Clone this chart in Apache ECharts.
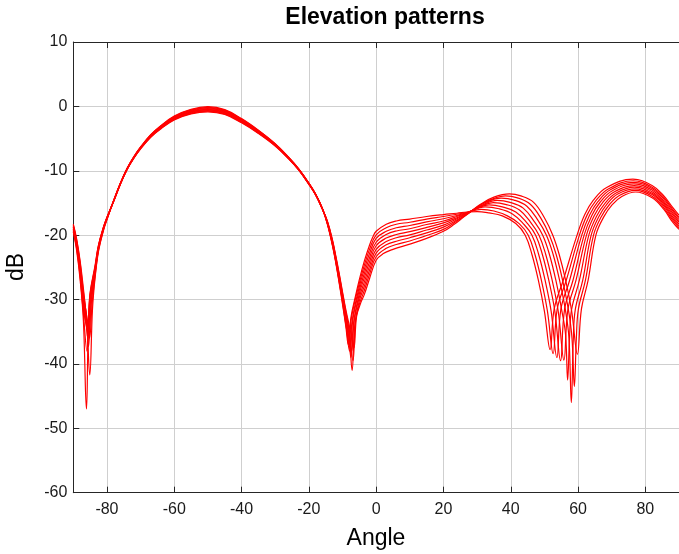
<!DOCTYPE html>
<html>
<head>
<meta charset="utf-8">
<script src="https://cdn.jsdelivr.net/npm/echarts@6/dist/echarts.min.js"></script>
<style>
  html, body { margin: 0; padding: 0; background: #fff; }
  #chart { width: 679px; height: 554px; }
</style>
</head>
<body>
<div id="chart"></div>
<script>
// tick labels
var xTicks = [-80, -60, -40, -20, 0, 20, 40, 60, 80];

// elevation pattern curves, [angle, dB]
var pattern1 = [[-90,-18.3],[-89,-20.6],[-88,-23.9],[-87,-28.3],[-86,-33.6],[-85.1,-41.7],[-84.3,-31.5],[-83.5,-26.5],[-82.5,-22.5],[-81,-19.2],[-80,-17.6],
  [-78,-14.6],[-76,-11.9],[-74,-9.6],[-72,-7.8],[-70,-6.3],[-67,-4.4],[-64,-3.0],[-60,-1.5],[-55,-0.45],[-50,-0.05],[-45,-0.5],[-40,-1.9],[-35,-3.7],[-30,-5.8],[-26,-7.9],[-23,-9.7],[-20,-11.9],[-18,-13.6],[-16,-15.8],[-14.5,-18.3],[-13,-21.6],[-12,-24.3],[-11,-27.4],[-10,-30.7],[-9,-34.2],[-8.3,-37],
  [-7.5,-32.8],[-6.2,-29.6],[-5,-26.9],[-3.5,-24.0],[-2,-21.6],[-1,-20.3],[0,-19.4],[3,-18.3],[6,-17.8],[10,-17.5],[15,-17.1],[20,-16.8],[24,-16.6],[27,-16.4],[30,-16.35],[33.5,-16.55],[37.5,-17.0],[41.5,-18.2],[44.3,-20],[46.3,-23.0],[48.2,-27],[50,-31.8],[51.7,-37.8],[52.9,-31.5],
  [55.6,-27],[59.7,-20],[62,-16.8],[64.5,-14.6],[68.5,-12.6],[76.3,-11.3],[82,-12.3],[85.5,-13.9],[88,-15.6],[90,-16.9]];
var pattern2 = [[-90,-18.4],[-89,-20.8],[-88,-24.2],[-87,-28.8],[-86,-32.8],[-85.2,-36],[-84.4,-30.6],[-83.5,-26.2],[-82.5,-22.3],[-81,-19.1],[-80,-17.5],
  [-78,-14.62],[-76,-11.92],[-74,-9.63],[-72,-7.83],[-70,-6.34],[-67,-4.45],[-64,-3.06],[-60,-1.58],[-55,-0.54],[-50,-0.15],[-45,-0.59],[-40,-1.98],[-35,-3.76],[-30,-5.84],[-26,-7.93],[-23,-9.73],[-20,-11.93],[-18,-13.62],[-16,-15.82],[-14.5,-18.24],[-13,-21.49],[-12,-24.16],[-11,-27.21],[-10,-30.46],[-9,-33.9],[-8.1,-36.5],
  [-7.3,-32.7],[-5,-27.45],[-3.5,-24.65],[-2,-22.25],[0,-19.95],[3,-18.85],[6,-18.3],[10,-18.0],[15,-17.5],[20,-17.1],[24,-16.75],[27,-16.45],[31.2,-16.0],[35,-16.25],[39,-17.0],[42.5,-18.2],[45.2,-20],[47.2,-23.0],[49.1,-27],[50.9,-31.8],[52.6,-38.4],[53.8,-31.5],
  [56.5,-27],[60.4,-20],[62.7,-16.85],[65.2,-14.7],[69.1,-12.8],[76.4,-11.55],[82,-12.55],[85.5,-14.15],[88,-15.9],[90,-17.2]];
var pattern3 = [[-90,-18.6],[-89,-21.0],[-88,-24.6],[-87,-29.4],[-86,-32.6],[-85.4,-35],[-84.6,-30.2],[-83.5,-25.8],[-82.5,-22.1],[-81,-19.0],[-80,-17.5],
  [-78,-14.64],[-76,-11.95],[-74,-9.65],[-72,-7.86],[-70,-6.38],[-67,-4.5],[-64,-3.13],[-60,-1.65],[-55,-0.63],[-50,-0.25],[-45,-0.69],[-40,-2.06],[-35,-3.83],[-30,-5.89],[-26,-7.96],[-23,-9.75],[-20,-11.95],[-18,-13.64],[-16,-15.84],[-14.5,-18.18],[-13,-21.38],[-12,-24.03],[-11,-27.03],[-10,-30.23],[-9,-33.55],[-7.9,-38],
  [-7.1,-33.2],[-5,-28.0],[-3.5,-25.3],[-2,-22.9],[0,-20.5],[3,-19.4],[6,-18.85],[10,-18.5],[15,-17.95],[20,-17.45],[24,-16.95],[27,-16.5],[32.4,-15.6],[36.5,-15.9],[40.5,-16.7],[43.7,-18.2],[46.3,-20],[48.3,-23.0],[50.2,-27],[52,-31.8],[53.7,-39.0],[54.9,-31.5],
  [57.5,-27],[61.1,-20],[63.4,-16.9],[65.9,-14.8],[69.6,-12.95],[76.5,-11.8],[82,-12.75],[85.5,-14.4],[88,-16.15],[90,-17.45]];
var pattern4 = [[-90,-18.7],[-89,-21.2],[-88,-24.9],[-87,-29.9],[-86,-34],[-85.5,-37.3],[-84.7,-30.4],[-83.5,-25.6],[-82.5,-22.0],[-81,-18.9],[-80,-17.4],
  [-78,-14.66],[-76,-11.97],[-74,-9.68],[-72,-7.89],[-70,-6.41],[-67,-4.55],[-64,-3.19],[-60,-1.73],[-55,-0.72],[-50,-0.35],[-45,-0.78],[-40,-2.14],[-35,-3.89],[-30,-5.93],[-26,-7.99],[-23,-9.78],[-20,-11.98],[-18,-13.66],[-16,-15.86],[-14.5,-18.11],[-13,-21.26],[-12,-23.89],[-11,-26.84],[-10,-29.99],[-9,-33.2],[-7.7,-37.5],
  [-6.9,-33.0],[-5,-28.55],[-3.5,-25.95],[-2,-23.55],[0,-21.1],[3,-19.9],[6,-19.35],[10,-19.0],[15,-18.35],[20,-17.8],[24,-17.1],[27,-16.55],[30.3,-15.75],[33.6,-15.3],[37.5,-15.6],[41.5,-16.4],[44.8,-18.1],[47.4,-20],[49.4,-23.0],[51.3,-27],[53.1,-31.8],[54.8,-39.5],[56,-31.5],
  [58.5,-27],[61.8,-20],[64.1,-16.95],[66.6,-14.85],[70.2,-13.1],[76.6,-12.05],[82,-13.0],[85.5,-14.7],[88,-16.45],[90,-17.75]];
var pattern5 = [[-90,-18.8],[-89,-21.4],[-88,-25.2],[-87,-30.4],[-86,-33.2],[-85.6,-34.5],[-84.8,-29.8],[-83.5,-25.4],[-82.5,-21.9],[-81,-18.9],[-80,-17.4],
  [-78,-14.68],[-76,-11.99],[-74,-9.7],[-72,-7.93],[-70,-6.45],[-67,-4.6],[-64,-3.25],[-60,-1.8],[-55,-0.81],[-50,-0.45],[-45,-0.88],[-40,-2.23],[-35,-3.95],[-30,-5.98],[-26,-8.03],[-23,-9.8],[-20,-12.0],[-18,-13.68],[-16,-15.88],[-14.5,-18.05],[-13,-21.15],[-12,-23.75],[-11,-26.65],[-10,-29.75],[-9,-32.9],[-8.2,-35.6],[-7.5,-39],
  [-6.7,-33.6],[-5,-29.1],[-3.5,-26.6],[-2,-24.2],[0,-21.65],[3,-20.45],[6,-19.9],[10,-19.45],[15,-18.8],[20,-18.1],[24,-17.3],[27,-16.6],[30.8,-15.6],[34.8,-14.95],[38.7,-15.25],[42.6,-16.1],[45.9,-18.0],[48.4,-20],[50.4,-23.0],[52.3,-27],[54.1,-31.8],[55.8,-39.4],[57,-31.5],
  [59.4,-27],[62.5,-20],[64.8,-17.0],[67.3,-14.95],[70.7,-13.3],[76.7,-12.3],[82,-13.25],[85.5,-14.95],[88,-16.75],[90,-18.0]];
var pattern6 = [[-90,-19.0],[-89,-21.6],[-88,-25.6],[-87,-30.9],[-86,-34.6],[-85.7,-36],[-84.9,-29.6],[-83.5,-25.2],[-82.5,-21.8],[-81,-18.8],[-80,-17.3],
  [-78,-14.69],[-76,-12.01],[-74,-9.73],[-72,-7.96],[-70,-6.49],[-67,-4.65],[-64,-3.31],[-60,-1.88],[-55,-0.9],[-50,-0.55],[-45,-0.97],[-40,-2.31],[-35,-4.01],[-30,-6.02],[-26,-8.06],[-23,-9.83],[-20,-12.03],[-18,-13.69],[-16,-15.89],[-14.5,-17.99],[-13,-21.04],[-12,-23.61],[-11,-26.46],[-10,-29.51],[-9,-32.55],[-8.1,-35.3],[-7.3,-38],
  [-6.5,-33.2],[-5,-29.65],[-3.5,-27.25],[-2,-24.85],[0,-22.2],[3,-21.0],[6,-20.4],[10,-19.95],[15,-19.2],[20,-18.45],[24,-17.45],[27,-16.65],[31.5,-15.35],[36,-14.6],[39.8,-14.9],[43.7,-15.8],[47,-17.9],[49.5,-20],[51.5,-23.0],[53.4,-27],[55.2,-31.8],[56.3,-35.5],[56.9,-42.5],[57.5,-35.5],[58.1,-31.5],
  [60.4,-27],[63.2,-20],[65.5,-17.05],[68,-15.05],[71.3,-13.45],[76.8,-12.55],[82,-13.5],[85.5,-15.2],[88,-17.05],[90,-18.3]];
var pattern7 = [[-90,-19.1],[-89,-21.8],[-88,-25.9],[-87,-31.5],[-86,-34.4],[-85.8,-35],[-85,-29.5],[-83.5,-25.0],[-82.5,-21.7],[-81,-18.8],[-80,-17.3],
  [-78,-14.71],[-76,-12.04],[-74,-9.75],[-72,-7.99],[-70,-6.53],[-67,-4.7],[-64,-3.38],[-60,-1.95],[-55,-0.99],[-50,-0.65],[-45,-1.06],[-40,-2.39],[-35,-4.08],[-30,-6.06],[-26,-8.09],[-23,-9.85],[-20,-12.05],[-18,-13.71],[-16,-15.91],[-14.5,-17.93],[-13,-20.93],[-12,-23.48],[-11,-26.28],[-10,-29.28],[-9,-32.25],[-8,-35.2],[-7.15,-41],
  [-6.35,-34.0],[-5,-30.2],[-3.5,-27.9],[-2,-25.5],[0,-22.8],[3,-21.5],[6,-20.95],[10,-20.4],[15,-19.65],[20,-18.75],[24,-17.65],[27,-16.7],[32,-15.05],[37.2,-14.25],[41,-14.55],[44.8,-15.5],[48.1,-17.7],[50.6,-20],[52.6,-23.0],[54.5,-27],[56.3,-31.8],[57.3,-36],[58,-46],[58.6,-36],[59.2,-31.5],
  [61.4,-27],[63.9,-20],[66.2,-17.1],[68.7,-15.1],[71.8,-13.6],[76.9,-12.8],[82,-13.7],[85.5,-15.45],[88,-17.3],[90,-18.55]];
var pattern8 = [[-90,-19.3],[-89,-22.1],[-88,-26.3],[-87,-32.2],[-85.95,-38],[-85.1,-29.6],[-83.5,-24.8],[-82.5,-21.6],[-81,-18.7],[-80,-17.3],
  [-78,-14.73],[-76,-12.06],[-74,-9.78],[-72,-8.02],[-70,-6.56],[-67,-4.75],[-64,-3.44],[-60,-2.03],[-55,-1.08],[-50,-0.75],[-45,-1.16],[-40,-2.47],[-35,-4.14],[-30,-6.11],[-26,-8.12],[-23,-9.88],[-20,-12.08],[-18,-13.73],[-16,-15.93],[-14.5,-17.86],[-13,-20.81],[-12,-23.34],[-11,-26.09],[-10,-29.04],[-9,-31.9],[-8,-34.8],[-6.9,-39.5],
  [-6.1,-33.2],[-5,-30.75],[-3.5,-28.55],[-2,-26.15],[0,-23.35],[3,-22.05],[6,-21.45],[10,-20.9],[15,-20.05],[20,-19.1],[24,-17.8],[27,-16.75],[32,-15.0],[35.5,-14.2],[38.4,-13.9],[42,-14.2],[45.8,-15.2],[49.1,-17.5],[51.5,-20],[53.5,-23.0],[55.4,-27],[57.2,-31.8],[58.2,-36],[58.9,-43.5],[59.5,-36],[60.1,-31.5],
  [62.2,-27],[64.6,-20],[66.9,-17.15],[69.4,-15.2],[72.4,-13.8],[77,-13.05],[82,-13.95],[85.5,-15.75],[88,-17.6],[90,-18.85]];
var pattern9 = [[-90,-19.5],[-89,-22.4],[-88,-26.8],[-87,-33.3],[-86.1,-47],[-85.2,-30],[-83.5,-24.6],[-82.5,-21.5],[-81,-18.7],[-80,-17.2],
  [-78,-14.75],[-76,-12.08],[-74,-9.8],[-72,-8.05],[-70,-6.6],[-67,-4.8],[-64,-3.5],[-60,-2.1],[-55,-1.17],[-50,-0.85],[-45,-1.25],[-40,-2.55],[-35,-4.2],[-30,-6.15],[-26,-8.15],[-23,-9.9],[-20,-12.1],[-18,-13.75],[-16,-15.95],[-14.5,-17.8],[-13,-20.7],[-12,-23.2],[-11,-25.9],[-10,-28.8],[-9,-31.6],[-8,-34.0],[-7.2,-36.0],[-6.6,-37.5],
  [-5.8,-32.6],[-4.5,-30.4],[-3.5,-29.2],[-2,-26.8],[0,-23.9],[2,-22.9],[5,-22.2],[10,-21.4],[15,-20.5],[20,-19.4],[23,-18.4],[26,-17.2],[28,-16.4],[31,-15.2],[35,-14.1],[39.6,-13.6],[43,-13.9],[46.8,-14.9],[50,-17.3],[52.5,-20],[54.4,-23.0],[56.3,-27],[58.1,-31.8],[59.8,-38.5],[61,-31.5],
  [63,-27],[65.3,-20],[67.6,-17.2],[70.1,-15.3],[73,-14.0],[77.1,-13.3],[82,-14.2],[85.5,-16.0],[88,-17.9],[90,-19.1]];

var patterns = [pattern1, pattern2, pattern3, pattern4, pattern5, pattern6, pattern7, pattern8, pattern9];

var chart = echarts.init(document.getElementById('chart'));
var font = '"Liberation Sans", Arial, sans-serif';
var axisCol = '#262626';

var series = patterns.map(function (d, i) {
  return {
    name: 'pattern' + (i + 1),
    type: 'line',
    data: d,
    xAxisIndex: 0,
    showSymbol: false,
    symbol: 'none',
    smooth: 0.4,
    lineStyle: { color: '#ff0000', width: 1.2 },
    emphasis: { disabled: true }
  };
});

var option = {
  animation: false,
  backgroundColor: '#ffffff',
  grid: { left: 73.3, top: 42, width: 646, height: 450.7 },
  xAxis: [{
    type: 'value', position: 'bottom',
    min: -90, max: 90,
    axisLine: { onZero: false, lineStyle: { color: axisCol, width: 1 } },
    axisTick: { inside: true, length: 6, customValues: xTicks, lineStyle: { color: axisCol } },
    axisLabel: { customValues: xTicks, margin: 9, color: '#1a1a1a', fontSize: 16, fontFamily: font },
    splitLine: { show: true, lineStyle: { color: '#cfcfcf', width: 1 } }
  }, {
    type: 'value', position: 'top',
    min: -90, max: 90,
    axisLine: { onZero: false, lineStyle: { color: axisCol, width: 1 } },
    axisTick: { inside: true, length: 6, customValues: xTicks, lineStyle: { color: axisCol } },
    axisLabel: { show: false },
    splitLine: { show: false }
  }],
  yAxis: {
    type: 'value',
    min: -60, max: 10, interval: 10,
    axisLine: { show: true, onZero: false, lineStyle: { color: axisCol, width: 1 } },
    axisTick: { show: true, inside: true, length: 6, lineStyle: { color: axisCol } },
    axisLabel: { margin: 6, color: '#1a1a1a', fontSize: 16, fontFamily: font },
    splitLine: { show: true, lineStyle: { color: '#cfcfcf', width: 1 } }
  },
  graphic: [
    { type: 'text', x: 385, y: 18, style: { text: 'Elevation patterns', fill: '#000', font: 'bold 23px ' + font, align: 'center', verticalAlign: 'middle' } },
    { type: 'text', x: 376, y: 539, style: { text: 'Angle', fill: '#000', font: '23px ' + font, align: 'center', verticalAlign: 'middle' } },
    { type: 'text', x: 17, y: 267, rotation: Math.PI / 2, style: { text: 'dB', fill: '#000', font: '23px ' + font, align: 'center', verticalAlign: 'middle' } }
  ],
  series: series
};

chart.setOption(option);
</script>
</body>
</html>
